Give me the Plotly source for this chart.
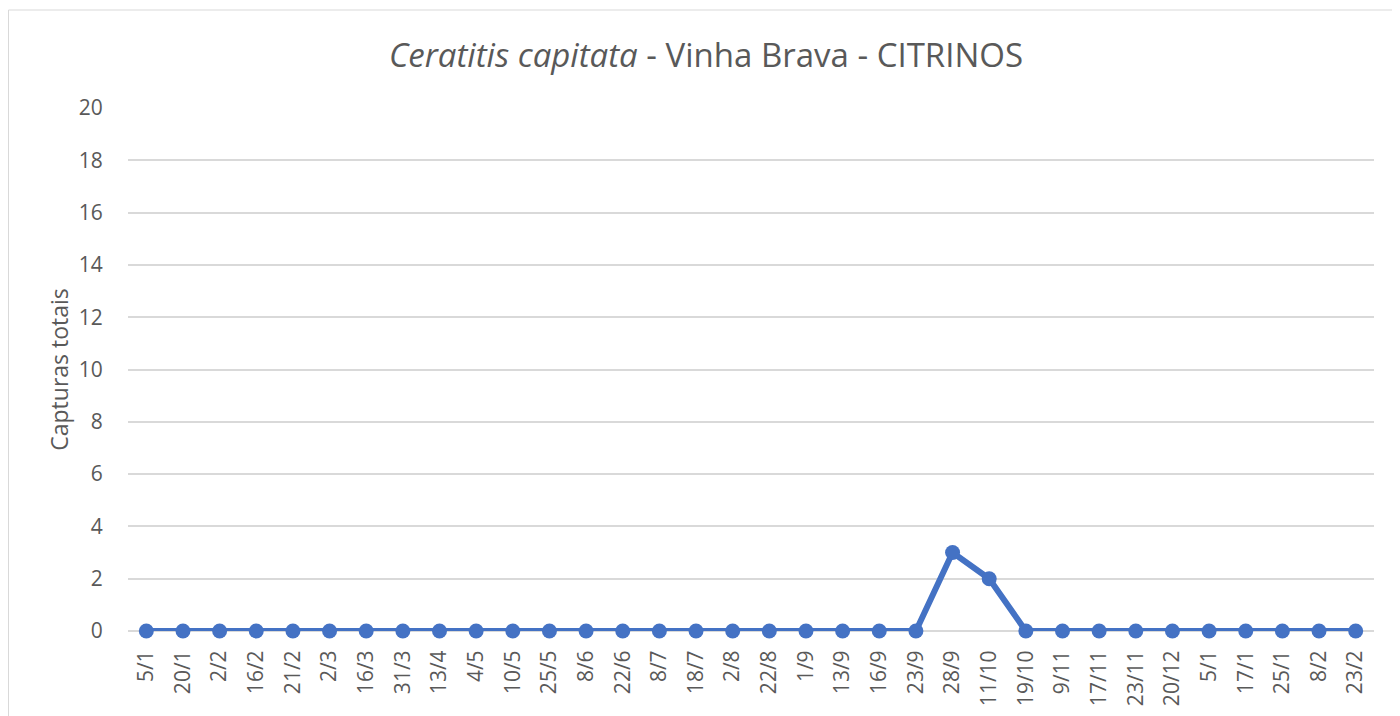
import plotly.graph_objects as go

dates = ["5/1", "20/1", "2/2", "16/2", "21/2", "2/3", "16/3", "31/3", "13/4", "4/5",
         "10/5", "25/5", "8/6", "22/6", "8/7", "18/7", "2/8", "22/8", "1/9", "13/9",
         "16/9", "23/9", "28/9", "11/10", "19/10", "9/11", "17/11", "23/11", "20/12",
         "5/1", "17/1", "25/1", "8/2", "23/2"]
captures = [0, 0, 0, 0, 0, 0, 0, 0, 0, 0,
            0, 0, 0, 0, 0, 0, 0, 0, 0, 0,
            0, 0, 3, 2, 0, 0, 0, 0, 0,
            0, 0, 0, 0, 0]
y_ticks = [0, 2, 4, 6, 8, 10, 12, 14, 16, 18, 20]

idx = list(range(len(dates)))
OFF = 8  # page body margin
W, H = 1400 - OFF, 716 - OFF
L, R, T, B = 128 - OFF, 26, 108 - OFF, 85

fig = go.Figure()
fig.add_trace(go.Scatter(
    x=idx, y=captures, mode="lines+markers",
    line=dict(color="#4472C4", width=6),
    marker=dict(color="#4472C4", size=15),
    showlegend=False, cliponaxis=False,
))

pw = W - L - R
ph = H - T - B
def px(xp):
    return (xp - L) / pw
def py(yp):
    return (H - B - yp) / ph

fig.add_shape(type="rect", xref="paper", yref="paper",
              x0=px(0.5), x1=px(W + 20), y0=py(2), y1=py(H + 20),
              line=dict(color="#D9D9D9", width=1), fillcolor="rgba(0,0,0,0)", layer="below")

fig.update_layout(
    width=W, height=H,
    margin=dict(l=L, r=R, t=T, b=B),
    paper_bgcolor="white", plot_bgcolor="white",
    font=dict(family="Open Sans", color="#595959"),
    title=dict(text="<i>Ceratitis capitata</i> - Vinha Brava - CITRINOS",
               x=(706 - OFF) / W, xanchor="center", xref="container",
               y=1 - (55 - OFF) / H, yanchor="middle",
               font=dict(size=33, color="#595959")),
    xaxis=dict(
        tickmode="array", tickvals=idx, ticktext=dates,
        range=[-0.5, len(dates) - 0.5], automargin=False,
        tickangle=-90, tickfont=dict(size=21, color="#595959"),
        showgrid=False, zeroline=False, showline=False,
        ticks="outside", ticklen=10, tickcolor="rgba(0,0,0,0)",
    ),
    yaxis=dict(
        range=[0, 20], tickvals=y_ticks, automargin=False,
        tickfont=dict(size=21, color="#595959"),
        showgrid=True, gridcolor="#D9D9D9", gridwidth=1.5,
        zeroline=True, zerolinecolor="#D9D9D9", zerolinewidth=1.5,
        showline=False, ticks="outside", ticklen=20, tickcolor="rgba(0,0,0,0)",
        title=dict(text="Capturas totais", font=dict(size=23, color="#595959"), standoff=3),
    ),
)

fig.write_html("out.html")
